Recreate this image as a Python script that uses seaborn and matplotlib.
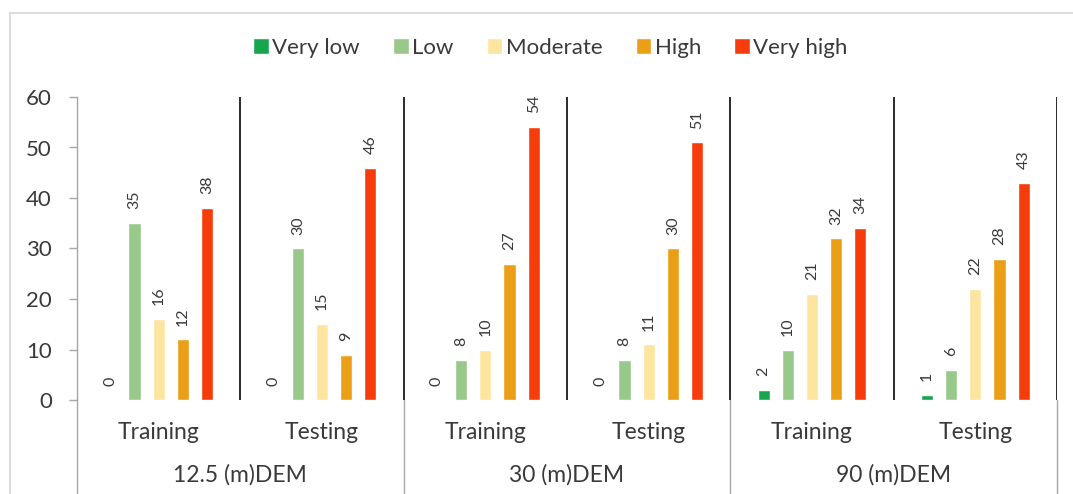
import matplotlib
matplotlib.use("Agg")
import matplotlib.pyplot as plt
from matplotlib.patches import Rectangle
import seaborn as sns
import pandas as pd

# --- data -------------------------------------------------------------
dems = ["12.5 (m)DEM", "30 (m)DEM", "90 (m)DEM"]
phases = ["Training", "Testing"]
classes = ["Very low", "Low", "Moderate", "High", "Very high"]

# percentage of each susceptibility class, per DEM / phase
very_low = [0, 0, 0, 0, 2, 1]
low = [35, 30, 8, 8, 10, 6]
moderate = [16, 15, 10, 11, 21, 22]
high = [12, 9, 27, 30, 32, 28]
very_high = [38, 46, 54, 51, 34, 43]

colors = ["#17a64e", "#98c98b", "#fde59f", "#ea9f16", "#f73c0b"]

# --- long-form table ----------------------------------------------------
subsets = [f"{d} {p}" for d in dems for p in phases]
series = [very_low, low, moderate, high, very_high]
rows = []
for cls, vals in zip(classes, series):
    for s, v in zip(subsets, vals):
        rows.append({"subset": s, "class": cls, "value": v})
df = pd.DataFrame(rows)

# --- figure -------------------------------------------------------------
sns.set_theme(style="white")
plt.rcParams["font.family"] = ["Lato", "DejaVu Sans"]
text_col = "#3a3a3a"

fig = plt.figure(figsize=(10.73, 4.94), dpi=100)
ax = fig.add_axes([77 / 1073, 1 - 400 / 494, (1057 - 77) / 1073, 303 / 494])

sns.barplot(data=df, x="subset", y="value", hue="class", order=subsets,
            hue_order=classes, palette=colors, saturation=1,
            width=0.74, gap=0.5, ax=ax, legend=True)

for cont in ax.containers:
    ax.bar_label(cont, fmt="%d", rotation=90, padding=10, fontsize=11.5,
                 color=text_col)

ax.set_ylim(0, 60)
ax.set_xlim(-0.5, len(subsets) - 0.5)
ax.set_yticks(range(0, 61, 10))
ax.set_xlabel("")
ax.set_ylabel("")

# x tick labels: phase names
ax.set_xticks(range(len(subsets)))
ax.set_xticklabels([p for d in dems for p in phases], fontsize=16.5,
                   color=text_col)
ax.tick_params(axis="x", length=0, pad=16)
ax.tick_params(axis="y", left=True, length=6, width=1, color="#a6a6a6",
               labelsize=16, labelcolor=text_col, pad=12)

for side in ["top", "right", "bottom"]:
    ax.spines[side].set_visible(False)
ax.spines["left"].set_color("#a6a6a6")
ax.spines["left"].set_linewidth(1)

# dark separators between subsets
ax.vlines([i + 0.5 for i in range(len(subsets))], 0, 60, color="#1a1a1a",
          lw=1.3)

# group separators and DEM labels below the axis
trans = ax.get_xaxis_transform()
for xb in [-0.5, 1.5, 3.5, 5.5]:
    ax.plot([xb, xb], [0, -0.32], transform=trans, color="#a6a6a6", lw=1,
            clip_on=False)
for i, d in enumerate(dems):
    ax.text(2 * i + 0.5, -0.248, d, transform=trans, ha="center",
            va="center", fontsize=16.5, color=text_col)

# legend on top
handles, labels = ax.get_legend_handles_labels()
ax.get_legend().remove()
fig.legend(handles, labels, loc="center", bbox_to_anchor=(0.513, 1 - 48 / 494),
           ncol=5, frameon=False, fontsize=16, handlelength=0.7,
           handleheight=0.7, handletextpad=0.15, columnspacing=1.5,
           labelcolor=text_col)

# light frame around the chart area
fig.add_artist(Rectangle((10 / 1073, -0.05), 1.1, 1 - 13 / 494 + 0.05,
                         transform=fig.transFigure, fill=False,
                         edgecolor="#dcdcdc", lw=1.5))

fig.savefig("out.png", dpi=100, facecolor="white")
